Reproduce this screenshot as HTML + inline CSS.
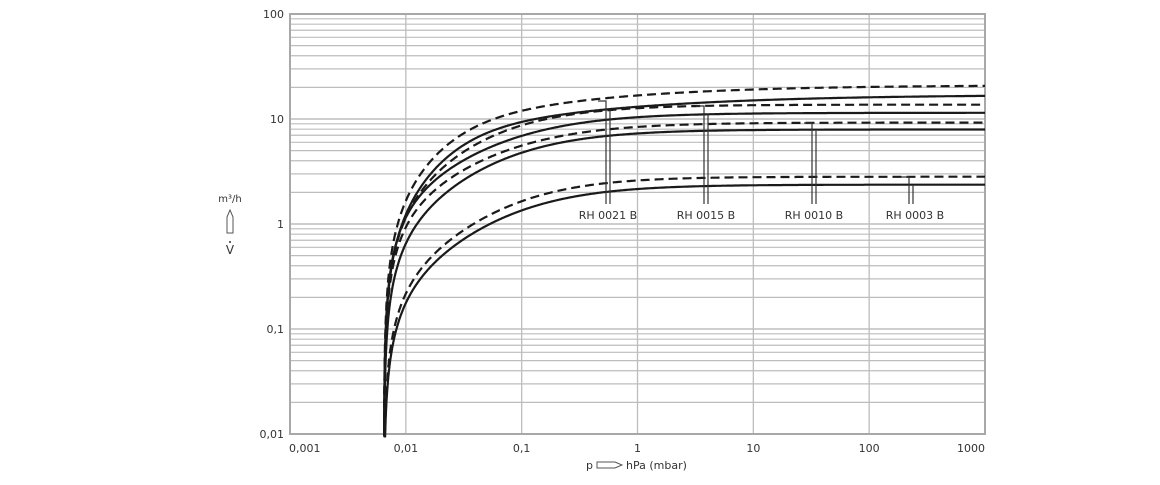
<!DOCTYPE html>
<html><head><meta charset="utf-8"><style>
body{margin:0;background:#fff;width:1160px;height:480px;overflow:hidden}
text{font-family:"DejaVu Sans","Liberation Sans",sans-serif;fill:#333}
</style></head><body>
<svg id="s" width="1160" height="480" xmlns="http://www.w3.org/2000/svg"></svg>
<script>
const s=document.getElementById('s');
const X0=290,X1=985,Y0=14,Y1=434;
const xd=(X1-X0)/6, yd=(Y1-Y0)/4;
const px=p=>X0+(Math.log10(p)+3)*xd;
const py=v=>Y1-(Math.log10(v)+2)*yd;
let h='';
for(let d=-2;d<2;d++){for(let m=1;m<10;m++){const v=m*Math.pow(10,d);const y=py(v);
h+=`<line x1="${X0}" x2="${X1}" y1="${y}" y2="${y}" stroke="#bdbdbd" stroke-width="${m==1?1.6:1.2}"/>`;}}
for(let d=0;d<=6;d++){const x=X0+d*xd;h+=`<line x1="${x}" x2="${x}" y1="${Y0}" y2="${Y1}" stroke="#bdbdbd" stroke-width="1.3"/>`;}
h+=`<rect x="${X0}" y="${Y0}" width="${X1-X0}" height="${Y1-Y0}" fill="none" stroke="#a8a8a8" stroke-width="2"/>`;
const p0=0.00647;
// [dash, Vm, k1, a1, k2]
const C=[[1,21,0.25,0.4,0.12],[0,17.05,0.3,0.35,0.14],[1,13.7,0.079,0.8,0.07],[0,11.45,0.1,0.8,0.02],
[1,9.25,0.1,0.8,0.02],[0,7.95,0.09,0.83,0.05],[1,2.82,0.085,0.9,0.03],[0,2.37,0.1,0.85,0.045]];
C.forEach(([dash,Vm,k1,a1,k2])=>{let d='';const l0=Math.log10(p0*1.00001);
for(let t=0;t<=900;t++){const lp=l0+Math.pow(t/900,2)*(3-l0);const p=Math.pow(10,lp);
const T=1/(1+k1*Math.pow(p,-a1)+k2*Math.pow(0.1/p,1.6));
let v=Vm*T*(1-Math.pow(p0/p,2));if(v<0.0095)v=0.0095;
d+=(t?'L':'M')+px(p).toFixed(1)+','+py(v).toFixed(1);}
h+=`<path d="${d}" fill="none" stroke="#1a1a1a" stroke-width="2.2" ${dash?'stroke-dasharray="9,5"':''}/>`;});
const L=[[606,101,610,110,'RH 0021 B',608],[704,106,708,114,'RH 0015 B',706],[812,123,816,131,'RH 0010 B',814],[909,177,913,185,'RH 0003 B',915]];
L.forEach(([a,ya,b,yb,t,cx])=>{h+=`<polyline points="${a-8},${ya} ${a},${ya} ${a},204" fill="none" stroke="#333" stroke-width="1.2"/>`;
h+=`<line x1="${b}" y1="${yb}" x2="${b}" y2="204" stroke="#333" stroke-width="1.2"/>`;
h+=`<text x="${cx}" y="219" font-size="11" text-anchor="middle">${t}</text>`;});
[['100',0],['10',1],['1',2],['0,1',3],['0,01',4]].forEach(([t,i])=>{h+=`<text x="284" y="${Y0+i*yd+4}" font-size="11" text-anchor="end">${t}</text>`;});
const xl=['0,001','0,01','0,1','1','10','100','1000'];
xl.forEach((t,i)=>{const x=X0+i*xd;const a=i==0?'start':(i==6?'end':'middle');h+=`<text x="${i==0?X0-1:x}" y="452" font-size="11" text-anchor="${a}">${t}</text>`;});
h+=`<text x="586" y="469" font-size="11">p</text><path d="M597,462 h18 l7,3 l-7,3 h-18 z" fill="none" stroke="#555" stroke-width="1"/><text x="626" y="469" font-size="11">hPa (mbar)</text>`;
h+=`<text x="230" y="202" font-size="10" text-anchor="middle">m³/h</text>`;
h+=`<path d="M227,233 v-16 l3,-7 l3,7 v16 z" fill="none" stroke="#555" stroke-width="1"/>`;
h+=`<text x="230" y="254" font-size="12" text-anchor="middle">V</text><circle cx="230" cy="242" r="1" fill="#333"/>`;
s.innerHTML=h;
</script>
</body></html>
